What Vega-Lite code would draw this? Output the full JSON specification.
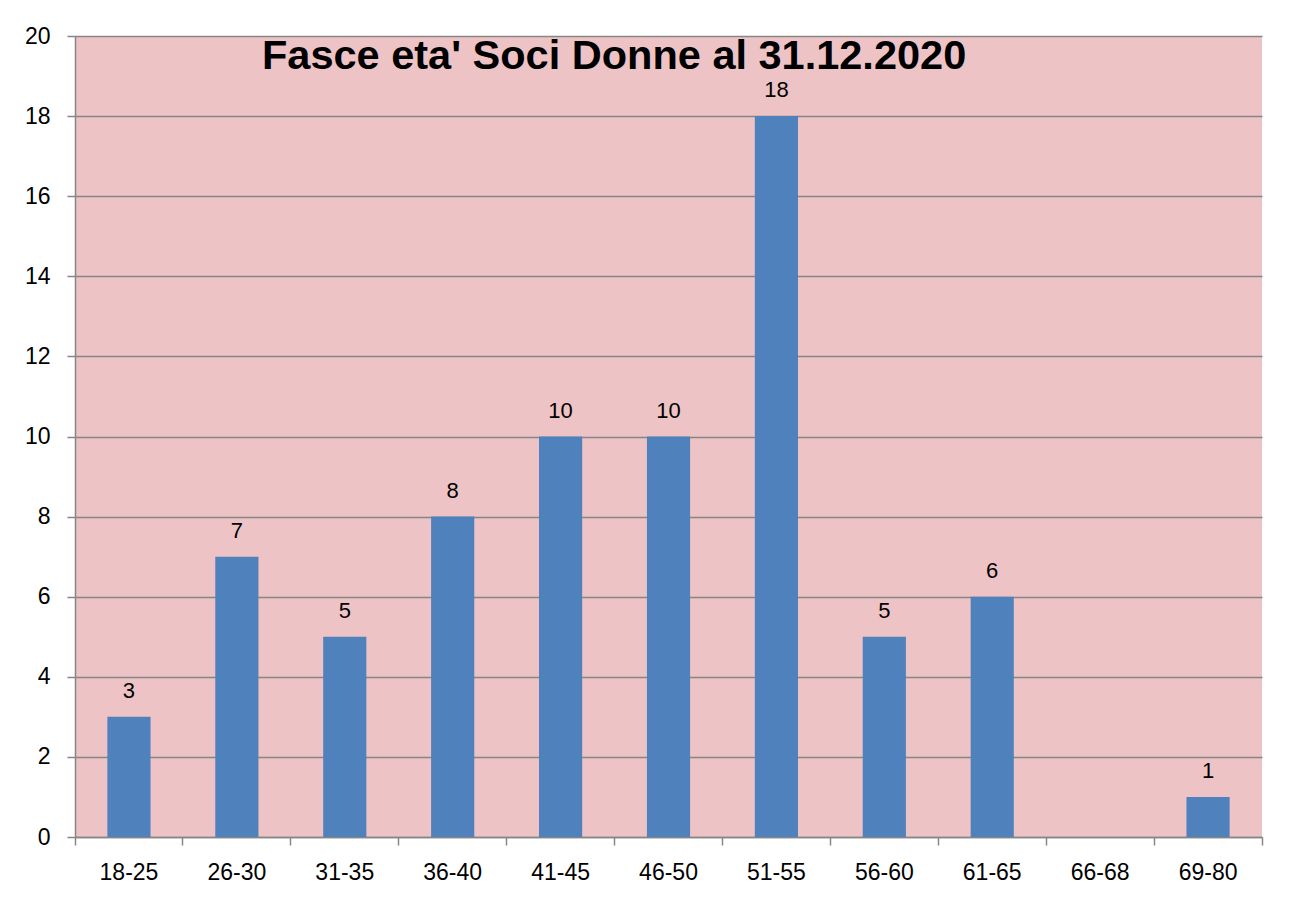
{
  "$schema": "https://vega.github.io/schema/vega-lite/v6.json",
  "autosize": {"type": "none"},
  "padding": {"left": 75, "top": 36, "right": 29, "bottom": 64},
  "width": 1187,
  "height": 801,
  "background": "#ffffff",
  "title": {
    "text": "Fasce eta' Soci Donne al 31.12.2020",
    "anchor": "start",
    "frame": "group",
    "baseline": "alphabetic",
    "offset": -85,
    "dx": 187,
    "font": "Liberation Sans",
    "fontSize": 41.5,
    "fontWeight": "bold",
    "color": "#000000"
  },
  "data": {
    "values": [
      {"fascia": "18-25", "soci": 3},
      {"fascia": "26-30", "soci": 7},
      {"fascia": "31-35", "soci": 5},
      {"fascia": "36-40", "soci": 8},
      {"fascia": "41-45", "soci": 10},
      {"fascia": "46-50", "soci": 10},
      {"fascia": "51-55", "soci": 18},
      {"fascia": "56-60", "soci": 5},
      {"fascia": "61-65", "soci": 6},
      {"fascia": "66-68", "soci": 0},
      {"fascia": "69-80", "soci": 1}
    ]
  },
  "encoding": {
    "x": {
      "field": "fascia",
      "type": "nominal",
      "sort": null,
      "scale": {"paddingInner": 0, "paddingOuter": 0},
      "axis": {
        "title": null,
        "labelAngle": 0,
        "bandPosition": 1,
        "tickExtra": true,
        "tickSize": 8,
        "tickColor": "#868686",
        "tickWidth": 1.5,
        "domainColor": "#868686",
        "domainWidth": 1.5,
        "labelFont": "Liberation Sans",
        "labelFontSize": 23,
        "labelColor": "#000000",
        "labelPadding": 16,
        "grid": false
      }
    },
    "y": {
      "field": "soci",
      "type": "quantitative",
      "scale": {"domain": [0, 20], "nice": false},
      "axis": {
        "title": null,
        "values": [0, 2, 4, 6, 8, 10, 12, 14, 16, 18, 20],
        "tickSize": 8,
        "tickColor": "#868686",
        "tickWidth": 1.5,
        "domainColor": "#868686",
        "domainWidth": 1.5,
        "gridColor": "#868686",
        "gridWidth": 1.5,
        "labelFont": "Liberation Sans",
        "labelFontSize": 23,
        "labelColor": "#000000",
        "labelPadding": 17
      }
    }
  },
  "layer": [
    {
      "mark": {"type": "bar", "color": "#4F81BD", "width": {"band": 0.4}}
    },
    {
      "transform": [{"filter": "datum.soci > 0"}],
      "mark": {
        "type": "text",
        "baseline": "alphabetic",
        "dy": -19,
        "font": "Liberation Sans",
        "fontSize": 22,
        "color": "#000000"
      },
      "encoding": {"text": {"field": "soci", "type": "quantitative"}}
    }
  ],
  "config": {
    "view": {"fill": "#EDC3C6", "stroke": null}
  }
}
